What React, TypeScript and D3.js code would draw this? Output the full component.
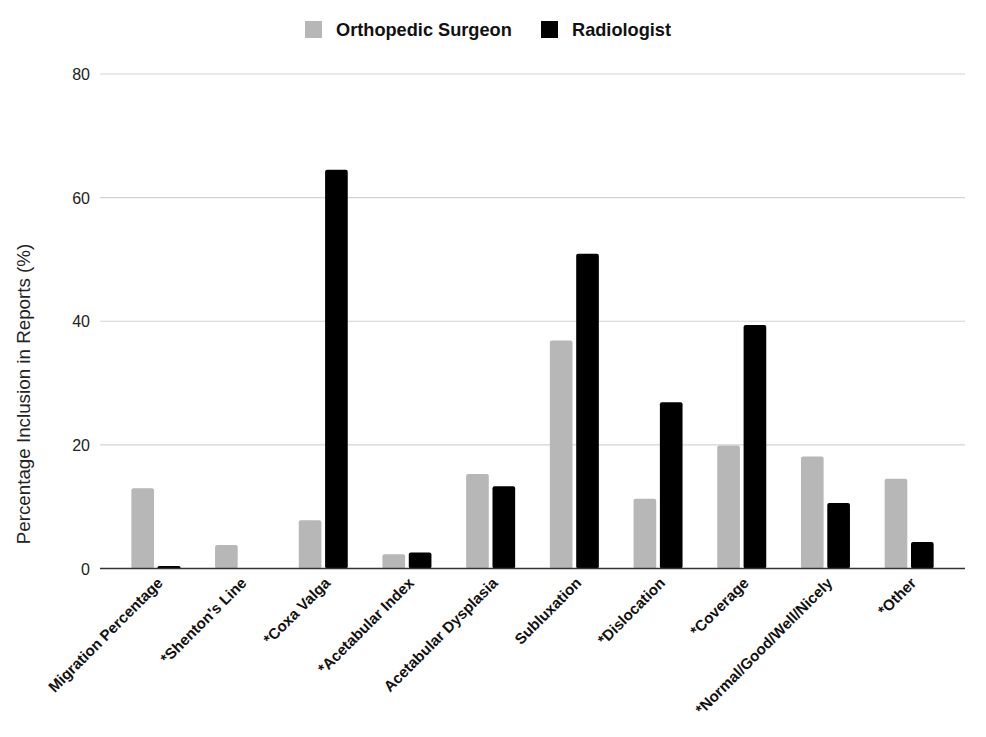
import React from "react";
import * as d3 from "d3";

const categories = [
  "Migration Percentage",
  "*Shenton's Line",
  "*Coxa Valga",
  "*Acetabular Index",
  "Acetabular Dysplasia",
  "Subluxation",
  "*Dislocation",
  "*Coverage",
  "*Normal/Good/Well/Nicely",
  "*Other",
];
const seriesNames = ["Orthopedic Surgeon", "Radiologist"];
const orthopedic = [13.0, 3.8, 7.8, 2.3, 15.3, 36.9, 11.3, 19.9, 18.1, 14.5];
const radiologist = [0.4, 0, 64.5, 2.6, 13.3, 50.9, 26.9, 39.4, 10.6, 4.3];
const yTicks = [0, 20, 40, 60, 80];
const colors = ["#b7b7b7", "#000000"];

const W = 986;
const H = 737;
const plotLeft = 100;
const plotRight = 965;
const font = "Liberation Sans, Arial, Helvetica, sans-serif";

export default function App() {
  const y = d3.scaleLinear().domain([0, 80]).range([568.5, 74]);
  const x = d3
    .scaleBand<string>()
    .domain(categories)
    .range([114, 951])
    .paddingInner(0)
    .paddingOuter(0);
  const inner = d3
    .scaleBand<number>()
    .domain([0, 1])
    .range([0, 49])
    .paddingInner(0.14);
  const series = [orthopedic, radiologist];
  const bw = x.bandwidth();

  return (
    <svg
      width={W}
      height={H}
      style={{ position: "absolute", left: 0, top: 0, background: "#fff" }}
    >
      <rect x={0} y={0} width={W} height={H} fill="#fff" />
      {yTicks.map((t) =>
        t === 0 ? null : (
          <line
            key={t}
            x1={plotLeft}
            x2={plotRight}
            y1={y(t)}
            y2={y(t)}
            stroke="#d4d4d4"
            strokeWidth={1.2}
          />
        )
      )}
      {yTicks.map((t) => (
        <text
          key={"l" + t}
          x={90}
          y={y(t) + 6}
          textAnchor="end"
          fontFamily={font}
          fontSize={16}
          fill="#222"
        >
          {t}
        </text>
      ))}
      <text
        transform={`translate(30, 394) rotate(-90)`}
        textAnchor="middle"
        fontFamily={font}
        fontSize={18.8}
        fill="#222"
      >
        Percentage Inclusion in Reports (%)
      </text>
      {categories.map((c, i) => {
        const gx = (x(c) as number) + (bw - 49) / 2;
        return series.map((s, si) => {
          const v = s[i];
          if (v <= 0) return null;
          const top = y(v);
          const h = y(0) - top;
          return (
            <rect
              key={c + si}
              x={gx + (inner(si) as number)}
              y={top}
              width={inner.bandwidth()}
              height={h}
              rx={2}
              fill={colors[si]}
            />
          );
        });
      })}
      <line
        x1={plotLeft}
        x2={plotRight}
        y1={y(0)}
        y2={y(0)}
        stroke="#333"
        strokeWidth={1.5}
      />
      {categories.map((c) => {
        const cx = (x(c) as number) + bw / 2;
        return (
          <text
            key={"x" + c}
            transform={`translate(${cx + 8}, ${584}) rotate(-45)`}
            textAnchor="end"
            fontFamily={font}
            fontSize={15.2}
            fontWeight="bold"
            fill="#111"
          >
            {c}
          </text>
        );
      })}
      <rect x={305} y={21} width={17} height={17} fill={colors[0]} />
      <text x={336} y={36} fontFamily={font} fontSize={18.2} fontWeight="bold" fill="#111">
        {seriesNames[0]}
      </text>
      <rect x={541} y={21} width={17} height={17} fill={colors[1]} />
      <text x={572} y={36} fontFamily={font} fontSize={18.2} fontWeight="bold" fill="#111">
        {seriesNames[1]}
      </text>
    </svg>
  );
}
